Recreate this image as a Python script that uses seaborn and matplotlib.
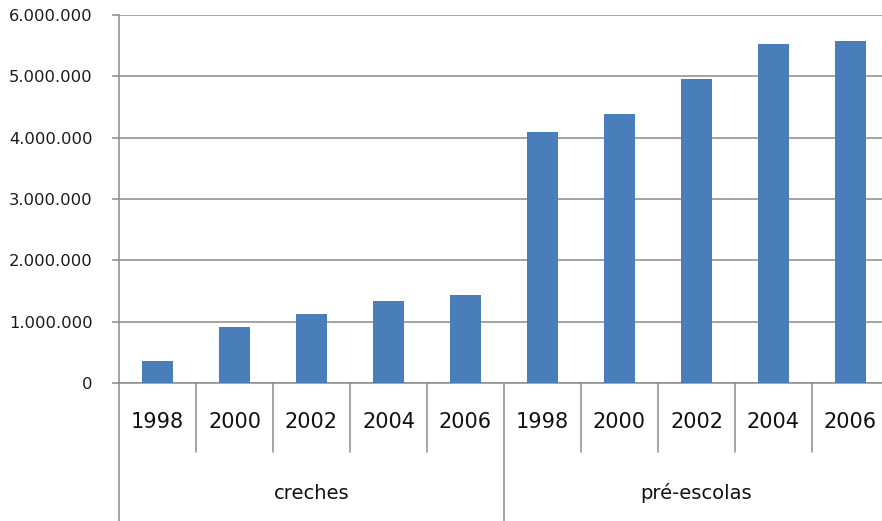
import matplotlib
matplotlib.use("Agg")
import matplotlib.pyplot as plt
import matplotlib.transforms as mtransforms
from matplotlib.ticker import FuncFormatter, MultipleLocator
import seaborn as sns
import pandas as pd

groups = ["creches", "pré-escolas"]
years = ["1998", "2000", "2002", "2004", "2006"]
creches = [355000, 905000, 1125000, 1335000, 1430000]
pre_escolas = [4100000, 4390000, 4960000, 5530000, 5570000]

rows = []
for g, vals in zip(groups, [creches, pre_escolas]):
    for y, v in zip(years, vals):
        rows.append({"label": f"{g}|{y}", "group": g, "year": y, "value": v})
df = pd.DataFrame(rows)

sns.set_theme(style="white")
plt.rcParams["font.family"] = ["DejaVu Sans"]

fig = plt.figure(figsize=(8.82, 5.21), dpi=100)
ax = fig.add_axes([119 / 882, 1 - 383 / 521, 770 / 882, 368 / 521])

sns.barplot(data=df, x="label", y="value", color="#4a7ebb", width=0.4,
            saturation=1, ax=ax, zorder=3, edgecolor="none", linewidth=0)

grid_c = "#8c8c8c"
ax.set_ylim(0, 6000000)
ax.set_xlim(-0.5, len(df) - 0.5)
ax.yaxis.set_major_locator(MultipleLocator(1000000))
ax.yaxis.set_major_formatter(FuncFormatter(lambda v, p: f"{int(v):,}".replace(",", ".")))
ax.grid(axis="y", color=grid_c, linewidth=1.1, zorder=0)
ax.set_axisbelow(True)
for s in ["top", "right"]:
    ax.spines[s].set_visible(False)
ax.spines["left"].set_color(grid_c)
ax.spines["bottom"].set_color(grid_c)
ax.spines["left"].set_linewidth(1.1)
ax.spines["bottom"].set_linewidth(1.1)
ax.tick_params(axis="y", which="major", direction="out", length=5, width=1.1,
               color=grid_c, pad=14, labelsize=11.8, labelcolor="#1a1a1a", left=True)
ax.set_xticks([])
ax.set_xlabel("")
ax.set_ylabel("")

trans = mtransforms.blended_transform_factory(ax.transData, ax.transAxes)
n_years = len(years)
for i, row in df.iterrows():
    ax.text(i, -0.106, row["year"], transform=trans, ha="center", va="center",
            fontsize=15, color="#111111", clip_on=False)
for k in range(len(df) + 1):
    xb = k - 0.5
    if k % n_years == 0:
        ybot = -0.375
    else:
        ybot = -0.1875
    ax.plot([xb, xb], [0, ybot], transform=trans, color=grid_c, linewidth=1.1,
            clip_on=False)
for gi, g in enumerate(groups):
    xc = gi * n_years + (n_years - 1) / 2
    ax.text(xc, -0.299, g, transform=trans, ha="center", va="center",
            fontsize=14, color="#111111", clip_on=False)

fig.savefig("out.png", dpi=100)
